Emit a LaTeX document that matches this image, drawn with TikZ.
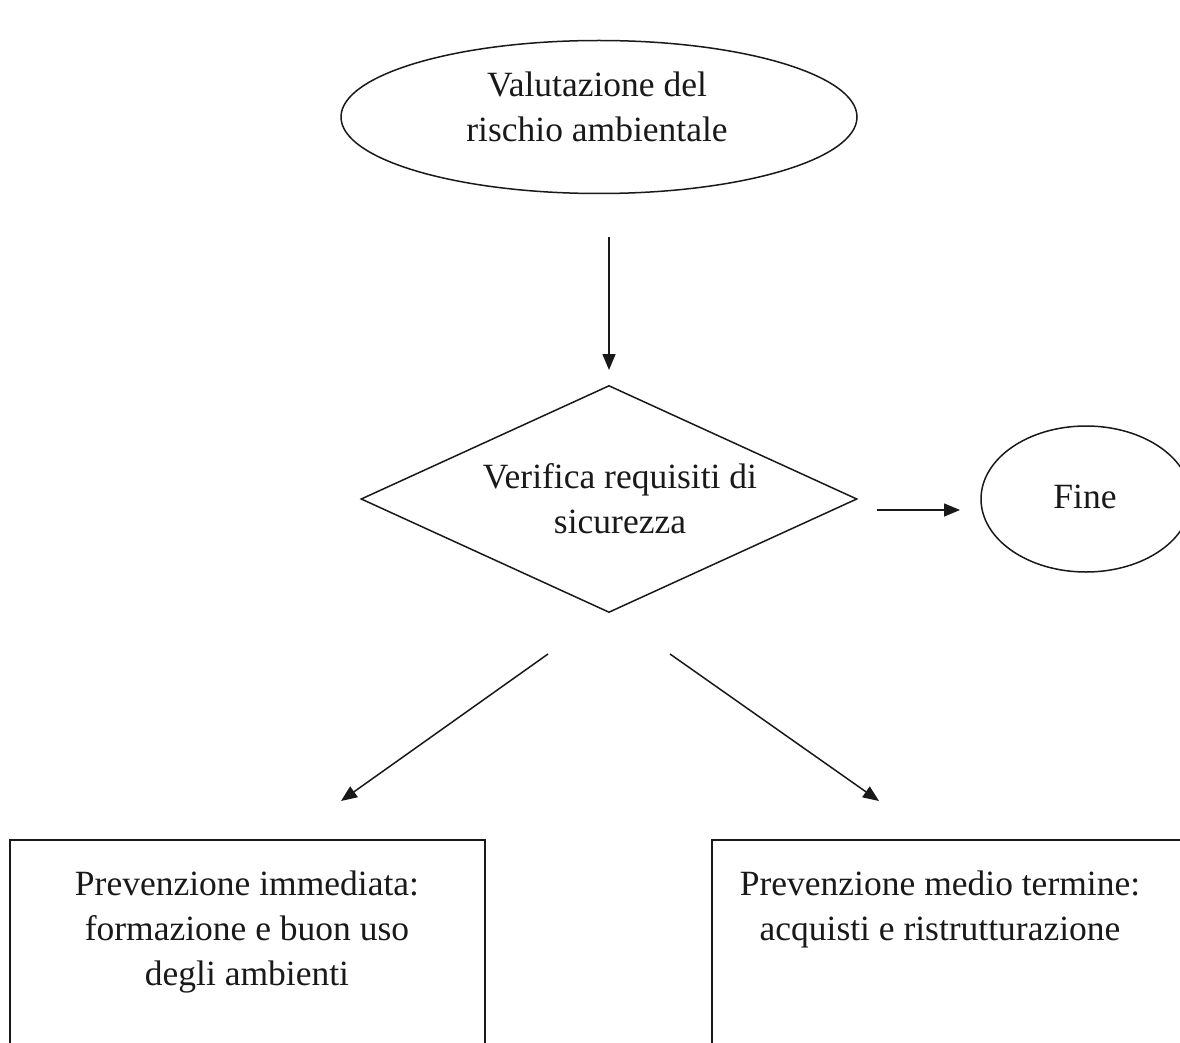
\documentclass[tikz,border=0pt]{standalone}
\usepackage{fontspec}
\setmainfont{Liberation Serif}
\usetikzlibrary{shapes.geometric,arrows.meta}
\begin{document}
\begin{tikzpicture}[x=1pt,y=-1pt,
  shapeline/.style={draw=black!90, line width=1.5pt},
  txt/.style={align=center, font=\fontsize{35.5}{45}\selectfont, text=black!90, inner sep=0pt},
  flow/.style={draw=black!90, line width=1.5pt, -{Triangle[length=16pt,width=13pt]}}]
\useasboundingbox (0,0) rectangle (1180,1043);
\clip (0,0) rectangle (1180,1043);

% start ellipse
\node[shapeline, ellipse, minimum width=516pt, minimum height=153pt, inner sep=0pt] (eval) at (599,117) {};
\node[txt] (evaltxt) at (597,107) {Valutazione del\\rischio ambientale};

% decision diamond
\node[shapeline, diamond, minimum width=496pt, minimum height=227pt, inner sep=0pt] (check) at (609,499) {};
\node[txt] (checktxt) at (620,499) {Verifica requisiti di\\sicurezza};

% end ellipse
\node[shapeline, ellipse, minimum width=210pt, minimum height=146pt, inner sep=0pt] (fine) at (1086,499) {};
\node[txt] (finetxt) at (1085,497) {Fine};

% outcome boxes (cut off at the page edge)
\draw[shapeline] (10,1060) -- (10,840) -- (485,840) -- (485,1060);
\node[txt] (lefttxt) at (247,932) {Prevenzione immediata:\\formazione e buon uso\\degli ambienti};

\draw[shapeline] (712,1060) -- (712,840) -- (1200,840);
\node[txt] (righttxt) at (940,909) {Prevenzione medio termine:\\acquisti e ristrutturazione};

% connector end points
\coordinate (a1s) at (609,237);
\coordinate (a1e) at (609,370);
\coordinate (a2s) at (877,510);
\coordinate (a2e) at (960,510);
\coordinate (a3s) at (548,654);
\coordinate (a3e) at (341,801);
\coordinate (a4s) at (670,654);
\coordinate (a4e) at (879,801);

\draw[flow] (a1s) -- (a1e);
\draw[flow] (a2s) -- (a2e);
\draw[flow] (a3s) -- (a3e);
\draw[flow] (a4s) -- (a4e);
\end{tikzpicture}
\end{document}
